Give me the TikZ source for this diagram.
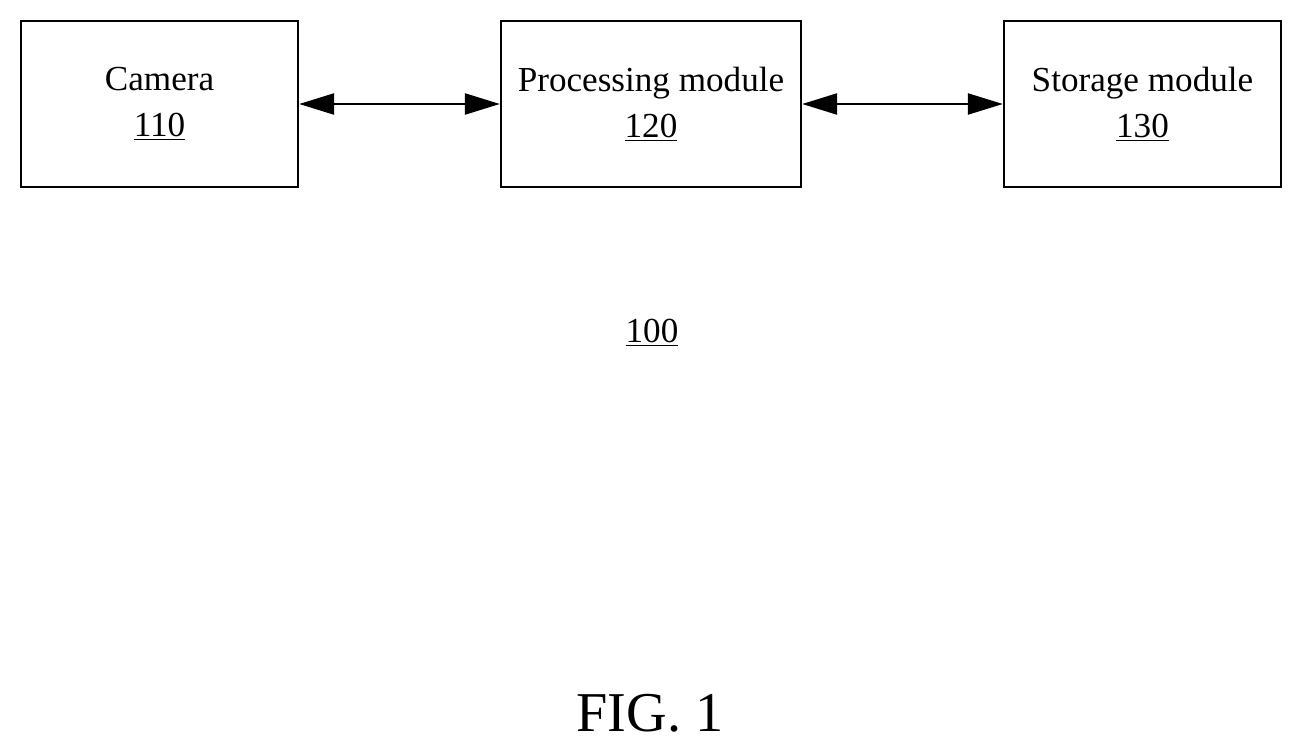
\documentclass[tikz,border=0pt]{standalone}
\usepackage{fontspec}
\setmainfont{Liberation Serif}
\usetikzlibrary{arrows.meta,positioning}
\tikzset{
  block/.style={draw, line width=1.3pt, minimum width=5.54cm, minimum height=3.32cm,
    align=center, font=\fontsize{20}{26}\selectfont},
  link/.style={line width=1.3pt, {Triangle[length=0.7cm,width=0.42cm]}-{Triangle[length=0.7cm,width=0.42cm]}}
}
\begin{document}
\begin{tikzpicture}
    \useasboundingbox (0,0) rectangle (26.06,-15.04);
    % modules
    \node[block] (cam) at (3.19,-2.08) {Camera\\\underline{110}};
    \node[block, minimum width=6cm] (proc) at (13.02,-2.08) {Processing module\\\underline{120}};
    \node[block] (stor) at (22.85,-2.08) {Storage module\\\underline{130}};
    % links
    \draw[link] (cam) -- (proc);
    \draw[link] (proc) -- (stor);
    % labels
    \node[font=\fontsize{20}{26}\selectfont] (sys) at (13.04,-6.66) {\underline{100}};
    \node[font=\fontsize{32}{38}\selectfont] (fig) at (13.0,-14.26) {FIG. 1};
\end{tikzpicture}
\end{document}
